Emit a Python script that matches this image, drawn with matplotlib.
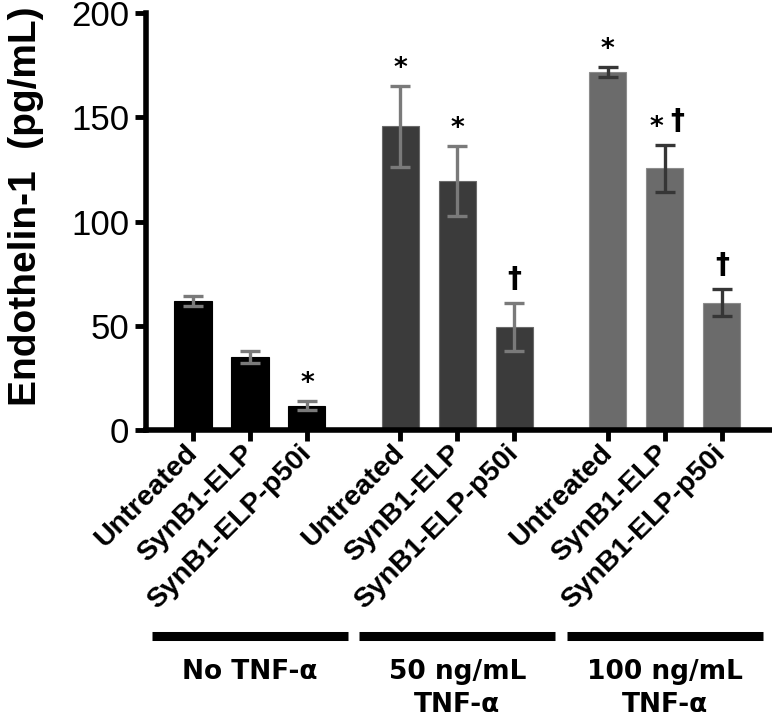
import numpy as np
import matplotlib.pyplot as plt
import matplotlib.transforms as mtransforms

# data (Endothelin-1, pg/mL)
groups = ['No TNF-\u03b1', '50 ng/mL\nTNF-\u03b1', '100 ng/mL\nTNF-\u03b1']
treatments = ['Untreated', 'SynB1-ELP', 'SynB1-ELP-p50i']
means = [[62.0, 35.0, 11.7],
         [145.7, 119.4, 49.5],
         [171.5, 125.5, 61.1]]
errors = [[2.5, 3.0, 2.0],
          [19.4, 16.8, 11.4],
          [2.4, 11.2, 6.6]]
marks = [['', '', '*'],
         ['*', '*', '\u2020'],
         ['*', '*\u2020', '\u2020']]

bar_colors = ['#000000', '#3b3b3b', '#6b6b6b']
edge_colors = ['#000000', '#6a6a6a', '#8c8c8c']
err_colors = ['#7a7a7a', '#7a7a7a', '#363636']

group_step = 3.64
bar_w = 0.65

fig = plt.figure(figsize=(7.72, 7.26), dpi=100)
ax = fig.add_axes([0.1891, 0.4077, 0.8109, 0.5744])

xticks, xlabels = [], []
for g in range(len(groups)):
    x = g * group_step + np.arange(len(treatments))
    ax.bar(x, means[g], width=bar_w, color=bar_colors[g],
           edgecolor=edge_colors[g], linewidth=0.8, zorder=2)
    ax.errorbar(x, means[g], yerr=errors[g], fmt='none', ecolor=err_colors[g],
                elinewidth=2.4, capsize=7.5, capthick=2.4, zorder=3)
    for xi, m, e, mk in zip(x, means[g], errors[g], marks[g]):
        top = m + e
        if '*' in mk:
            dx = -6 if '\u2020' in mk else 0
            ax.annotate('*', (xi, top), xytext=(dx, 3), textcoords='offset points',
                        ha='center', va='bottom', fontsize=19, fontweight='bold',
                        family='DejaVu Sans')
        if '\u2020' in mk:
            dx = 9 if '*' in mk else 0
            ax.annotate('\u2020', (xi, top), xytext=(dx, 7), textcoords='offset points',
                        ha='center', va='bottom', fontsize=20, fontweight='bold',
                        family='DejaVu Sans')
    xticks.extend(x)
    xlabels.extend(treatments)

    # group bar and group label under the tick labels
    trans = mtransforms.blended_transform_factory(ax.transData, ax.transAxes)
    ax.plot([x[0] - 0.72, x[-1] + 0.72], [-0.494, -0.494], color='black', lw=6.5,
            solid_capstyle='butt', transform=trans, clip_on=False)
    ax.text(x[1], -0.548, groups[g], transform=trans, ha='center', va='top',
            fontsize=19, fontweight='bold', family='DejaVu Sans', linespacing=1.35)

ax.set_xlim(-0.825, 10.16)
ax.set_ylim(0, 200)
ax.set_yticks([0, 50, 100, 150, 200])
ax.set_xticks(xticks)
ax.set_xticklabels(xlabels, rotation=45, ha='right', va='center',
                   rotation_mode='anchor', fontsize=20.5, fontweight='bold',
                   family='Liberation Sans')
for lab in ax.get_yticklabels():
    lab.set_family('Liberation Sans')
    lab.set_fontsize(25)

ax.spines['top'].set_visible(False)
ax.spines['right'].set_visible(False)
ax.spines['left'].set_linewidth(4)
ax.spines['bottom'].set_linewidth(4)
ax.tick_params(axis='both', direction='out', length=8, width=3.5, color='black')
ax.tick_params(axis='y', pad=4)
ax.tick_params(axis='x', pad=6)

fig.text(26 / 772, 1 - 206 / 726, 'Endothelin-1  (pg/mL)', rotation=90,
         ha='center', va='center', fontsize=28, fontweight='bold',
         family='Liberation Sans')

fig.savefig('out.png', dpi=100)
